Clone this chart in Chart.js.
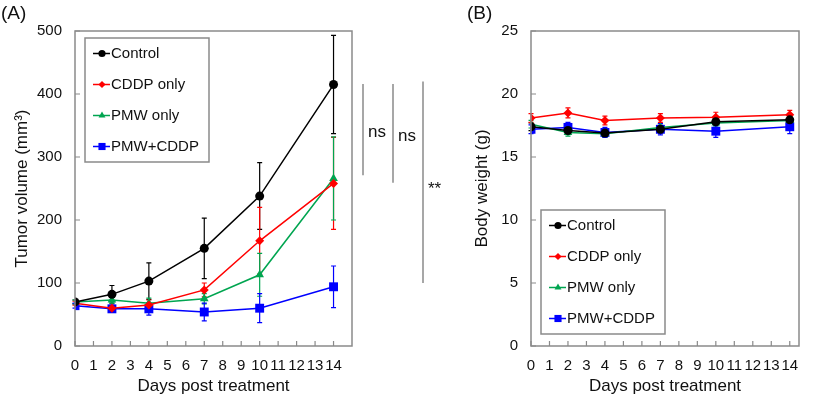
<!DOCTYPE html>
<html lang="en">
<head>
  <meta charset="UTF-8">
  <title>Tumor volume and body weight</title>
  <script src="https://cdn.jsdelivr.net/npm/chart.js"></script>
  <style>
    body { margin: 0; background: #fff; }
    .wrap { position: relative; width: 813px; height: 398px; }
    .panel { position: absolute; top: 0; }
    .label { position: absolute; top: 2px; font: 19px "Liberation Sans", Arial, sans-serif; color: #111; }
  </style>
</head>
<body>
  <div class="wrap">
    <div class="panel" style="left:0;width:465px;height:398px;"><canvas id="chartA"></canvas></div>
    <div class="panel" style="left:465px;width:348px;height:398px;"><canvas id="chartB"></canvas></div>
    <div class="label" style="left:1px;">(A)</div>
    <div class="label" style="left:467px;">(B)</div>
  </div>

  <script>
    const days = [0, 2, 4, 7, 10, 14];
    const xTicks = [0, 1, 2, 3, 4, 5, 6, 7, 8, 9, 10, 11, 12, 13, 14];
    const groups = ['Control', 'CDDP only', 'PMW only', 'PMW+CDDP'];
    const colors = ['#000000', '#ff0000', '#00a550', '#0000ff'];
    const markers = ['circle', 'rectRot', 'triangle', 'rect'];
    const markerSize = [4.5, 4.5, 5, 6.3];

    // (A) tumor volume, mm3
    const tumorControl = [70, 82, 103, 155, 238, 415];
    const tumorCddp    = [68, 60, 65, 89, 167, 258];
    const tumorPmw     = [70, 73, 68, 75, 113, 266];
    const tumorBoth    = [64, 59, 59, 54, 60, 94];
    const tumorErrControl = [3, 14, 29, 48, 53, 78];
    const tumorErrCddp    = [3, 5, 8, 11, 53, 73];
    const tumorErrPmw     = [3, 5, 8, 8, 34, 66];
    const tumorErrBoth    = [4, 5, 10, 14, 23, 33];

    // (B) body weight, g
    const weightControl = [17.4, 17.1, 16.9, 17.2, 17.8, 17.95];
    const weightCddp    = [18.1, 18.5, 17.9, 18.1, 18.15, 18.35];
    const weightPmw     = [17.6, 16.95, 16.85, 17.35, 17.7, 17.9];
    const weightBoth    = [17.2, 17.35, 16.95, 17.2, 17.05, 17.4];
    const weightErrControl = [0.3, 0.3, 0.3, 0.3, 0.3, 0.3];
    const weightErrCddp    = [0.35, 0.4, 0.35, 0.35, 0.4, 0.35];
    const weightErrPmw     = [0.3, 0.3, 0.3, 0.3, 0.3, 0.3];
    const weightErrBoth    = [0.35, 0.4, 0.4, 0.45, 0.5, 0.55];

    // significance brackets in (A): top value, bottom value, text
    const sigTop = [416, 416, 420];
    const sigBottom = [271, 259, 100];
    const sigText = ['ns', 'ns', '**'];

    const FONT = '"Liberation Sans", Arial, sans-serif';
    const FRAME = '#8a8a8a';

    function makeDatasets(series, errors) {
      return series.map((vals, i) => ({
        label: groups[i],
        data: vals.map((v, k) => ({ x: days[k], y: v })),
        errors: errors[i],
        borderColor: colors[i],
        backgroundColor: colors[i],
        pointBackgroundColor: colors[i],
        pointBorderColor: colors[i],
        pointStyle: markers[i],
        pointRadius: markerSize[i],
        pointBorderWidth: 0,
        borderWidth: 1.5,
        tension: 0,
        fill: false
      }));
    }

    // frame, inward ticks, error bars
    const framePlugin = {
      id: 'frame',
      beforeDatasetsDraw(chart) {
        const ctx = chart.ctx;
        const xs = chart.scales.x, ys = chart.scales.y;
        ctx.save();
        chart.data.datasets.forEach(ds => {
          ctx.strokeStyle = ds.borderColor;
          ctx.lineWidth = 1.2;
          ds.data.forEach((p, k) => {
            const e = ds.errors[k];
            const px = xs.getPixelForValue(p.x);
            const y1 = ys.getPixelForValue(p.y + e);
            const y2 = ys.getPixelForValue(p.y - e);
            ctx.beginPath();
            ctx.moveTo(px, y1); ctx.lineTo(px, y2);
            ctx.moveTo(px - 2.5, y1); ctx.lineTo(px + 2.5, y1);
            ctx.moveTo(px - 2.5, y2); ctx.lineTo(px + 2.5, y2);
            ctx.stroke();
          });
        });
        ctx.restore();
      },
      afterDraw(chart) {
        const ctx = chart.ctx;
        const a = chart.chartArea;
        const xs = chart.scales.x, ys = chart.scales.y;
        ctx.save();
        ctx.strokeStyle = FRAME;
        ctx.lineWidth = 1.5;
        ctx.strokeRect(a.left, a.top, a.right - a.left, a.bottom - a.top);
        ctx.lineWidth = 1.2;
        ctx.beginPath();
        xs.ticks.forEach(t => {
          const px = xs.getPixelForValue(t.value);
          ctx.moveTo(px, a.bottom); ctx.lineTo(px, a.bottom - 5);
        });
        ys.ticks.forEach(t => {
          const py = ys.getPixelForValue(t.value);
          ctx.moveTo(a.left, py); ctx.lineTo(a.left + 5, py);
        });
        ctx.stroke();
        ctx.restore();
      }
    };

    // legend box drawn inside the plot
    const boxLegend = {
      id: 'boxLegend',
      afterDraw(chart, args, opts) {
        const ctx = chart.ctx;
        const a = chart.chartArea;
        const left = a.left + opts.dx;
        const top = opts.top;
        ctx.save();
        ctx.fillStyle = '#fff';
        ctx.fillRect(left, top, 124, 124);
        ctx.strokeStyle = FRAME;
        ctx.lineWidth = 1.5;
        ctx.strokeRect(left, top, 124, 124);
        ctx.font = '15px ' + FONT;
        ctx.textBaseline = 'middle';
        chart.data.datasets.forEach((ds, i) => {
          const cy = top + 15.5 + i * 31;
          ctx.strokeStyle = ds.borderColor;
          ctx.lineWidth = 1.5;
          ctx.beginPath();
          ctx.moveTo(left + 8, cy); ctx.lineTo(left + 25, cy);
          ctx.stroke();
          ctx.fillStyle = ds.backgroundColor;
          Chart.helpers.drawPoint(ctx, {
            pointStyle: ds.pointStyle, radius: ds.pointRadius * 0.8, borderWidth: 0, rotation: 0
          }, left + 17, cy);
          ctx.fillStyle = '#111';
          ctx.fillText(ds.label, left + 26, cy);
        });
        ctx.restore();
      }
    };

    const sigPlugin = {
      id: 'sig',
      afterDraw(chart) {
        const ctx = chart.ctx;
        const a = chart.chartArea;
        const ys = chart.scales.y;
        ctx.save();
        ctx.strokeStyle = FRAME;
        ctx.lineWidth = 1.5;
        ctx.fillStyle = '#111';
        ctx.font = '17px ' + FONT;
        ctx.textBaseline = 'middle';
        sigTop.forEach((v, i) => {
          const px = a.right + 11 + i * 30;
          const y1 = ys.getPixelForValue(v);
          const y2 = ys.getPixelForValue(sigBottom[i]);
          ctx.beginPath();
          ctx.moveTo(px, y1); ctx.lineTo(px, y2);
          ctx.stroke();
          ctx.fillText(sigText[i], px + 5, (y1 + y2) / 2 + (i === 2 ? 7 : 3));
        });
        ctx.restore();
      }
    };

    function makeChart(id, datasets, cfg) {
      return new Chart(document.getElementById(id), {
        type: 'line',
        data: { datasets },
        plugins: cfg.plugins,
        options: {
          responsive: true,
          maintainAspectRatio: false,
          animation: false,
          layout: { padding: { top: 31, right: cfg.padRight, left: 0, bottom: 0 } },
          plugins: {
            legend: { display: false },
            tooltip: { enabled: false },
            boxLegend: { dx: 10, top: cfg.legendTop }
          },
          scales: {
            x: {
              type: 'linear',
              min: 0,
              max: cfg.xMax,
              afterBuildTicks: s => { s.ticks = xTicks.map(v => ({ value: v })); },
              afterFit: s => { s.height = 52; },
              ticks: { autoSkip: false, maxRotation: 0, padding: 11, color: '#111', font: { family: FONT, size: 15 } },
              grid: { display: false, drawTicks: false },
              border: { display: false },
              title: { display: true, text: 'Days post treatment', color: '#111', font: { family: FONT, size: 17 }, padding: { top: 0, bottom: 1 } }
            },
            y: {
              min: 0,
              max: cfg.yMax,
              afterFit: s => { s.width = cfg.yWidth; },
              ticks: { stepSize: cfg.yStep, padding: 13, color: '#111', font: { family: FONT, size: 15 } },
              grid: { display: false, drawTicks: false },
              border: { display: false },
              title: { display: true, text: cfg.yTitle, color: '#111', font: { family: FONT, size: 17 }, padding: { top: cfg.titlePad, bottom: 0 } }
            }
          }
        }
      });
    }

    makeChart('chartA',
      makeDatasets([tumorControl, tumorCddp, tumorPmw, tumorBoth],
                   [tumorErrControl, tumorErrCddp, tumorErrPmw, tumorErrBoth]),
      { xMax: 15, yMax: 500, yStep: 100, yWidth: 75, padRight: 113, yTitle: 'Tumor volume (mm³)',
        titlePad: 12, legendTop: 38, plugins: [framePlugin, boxLegend, sigPlugin] });

    makeChart('chartB',
      makeDatasets([weightControl, weightCddp, weightPmw, weightBoth],
                   [weightErrControl, weightErrCddp, weightErrPmw, weightErrBoth]),
      { xMax: 14.5, yMax: 25, yStep: 5, yWidth: 66, padRight: 14, yTitle: 'Body weight (g)',
        titlePad: 7, legendTop: 210, plugins: [framePlugin, boxLegend] });
  </script>
</body>
</html>
